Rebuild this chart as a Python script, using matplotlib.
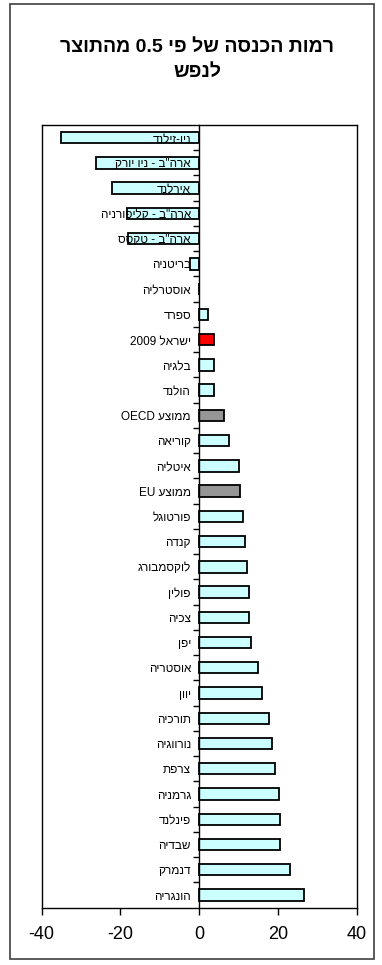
import matplotlib
matplotlib.use("Agg")
import matplotlib.pyplot as plt
import matplotlib.patches as mpatches
import numpy as np

FONT = ["Liberation Sans", "DejaVu Sans"]

# top to bottom
countries = [
    "ניו-זילנד", 'ארה"ב - ניו יורק', "אירלנד", 'ארה"ב - קליפורניה',
    'ארה"ב - טקסס', "בריטניה", "אוסטרליה", "ספרד", "ישראל 2009", "בלגיה",
    "הולנד", "ממוצע OECD", "קוריאה", "איטליה", "ממוצע EU", "פורטוגל",
    "קנדה", "לוקסמבורג", "פולין", "צכיה", "יפן", "אוסטריה", "יוון",
    "תורכיה", "נורווגיה", "צרפת", "גרמניה", "פינלנד", "שבדיה", "דנמרק",
    "הונגריה",
]
values = [
    -35.0, -26.2, -22.1, -18.3, -18.2, -2.4, 0.0, 2.2, 3.6, 3.6,
    3.8, 6.2, 7.6, 10.1, 10.3, 11.1, 11.7, 12.1, 12.5, 12.5, 13.0,
    14.8, 16.0, 17.8, 18.4, 19.3, 20.2, 20.4, 20.5, 22.9, 26.6,
]
highlight = {"ישראל 2009": "#ff0000", "ממוצע OECD": "#969696", "ממוצע EU": "#969696"}
x_ticks = [-40, -20, 0, 20, 40]
title_lines = ["רמות הכנסה של פי 0.5 מהתוצר", "לנפש"]

BAR_COLOR = "#ccffff"


def visual(text):
    # no bidi engine here: lay RTL text out left-to-right by hand
    def is_hebrew(word):
        return any("\u0590" <= ch <= "\u05ff" for ch in word)
    words = text.split(" ")[::-1]
    return " ".join(w[::-1] if is_hebrew(w) else w for w in words)


fig = plt.figure(figsize=(3.82, 9.65), dpi=100)
fig.patches.append(mpatches.Rectangle(
    (10 / 382, 1 - 959 / 965), 364 / 382, 955 / 965, transform=fig.transFigure,
    fill=False, edgecolor="#404040", linewidth=1.2))

ax = fig.add_axes([0.109, 0.0594, 0.8256, 0.8111])
pos = np.arange(len(countries))
colors = [highlight.get(c, BAR_COLOR) for c in countries]
ax.barh(pos, values, height=0.45, color=colors, edgecolor="black",
        linewidth=1.3, zorder=2)

ax.set_xlim(-40, 40)
ax.set_ylim(len(countries) - 0.5, -0.5)
ax.set_xticks(x_ticks)
ax.set_xticklabels([str(t) for t in x_ticks], fontsize=13, family=FONT)
ax.tick_params(axis="x", length=5, width=1, pad=8, color="black")
ax.set_yticks([])
for spine in ax.spines.values():
    spine.set_linewidth(1)
    spine.set_color("black")

# category axis sits on the zero line
sec = ax.secondary_yaxis(0, transform=ax.transData)
sec.set_zorder(3)
sec.set_yticks(pos)
sec.set_yticklabels([visual(c) for c in countries], fontsize=8.5, family=FONT)
sec.set_yticks(pos[:-1] + 0.5, minor=True)
sec.tick_params(axis="y", which="major", length=0, pad=6)
sec.tick_params(axis="y", which="minor", length=4, width=1, direction="out")
sec.spines["left"].set_linewidth(1)

fig.text(0.516, 1 - 47 / 965, visual(title_lines[0]), ha="center", va="center",
         fontsize=14, fontweight="bold", family=FONT)
fig.text(0.516, 1 - 72 / 965, visual(title_lines[1]), ha="center", va="center",
         fontsize=14, fontweight="bold", family=FONT)

fig.savefig("out.png", dpi=100, facecolor="white")
